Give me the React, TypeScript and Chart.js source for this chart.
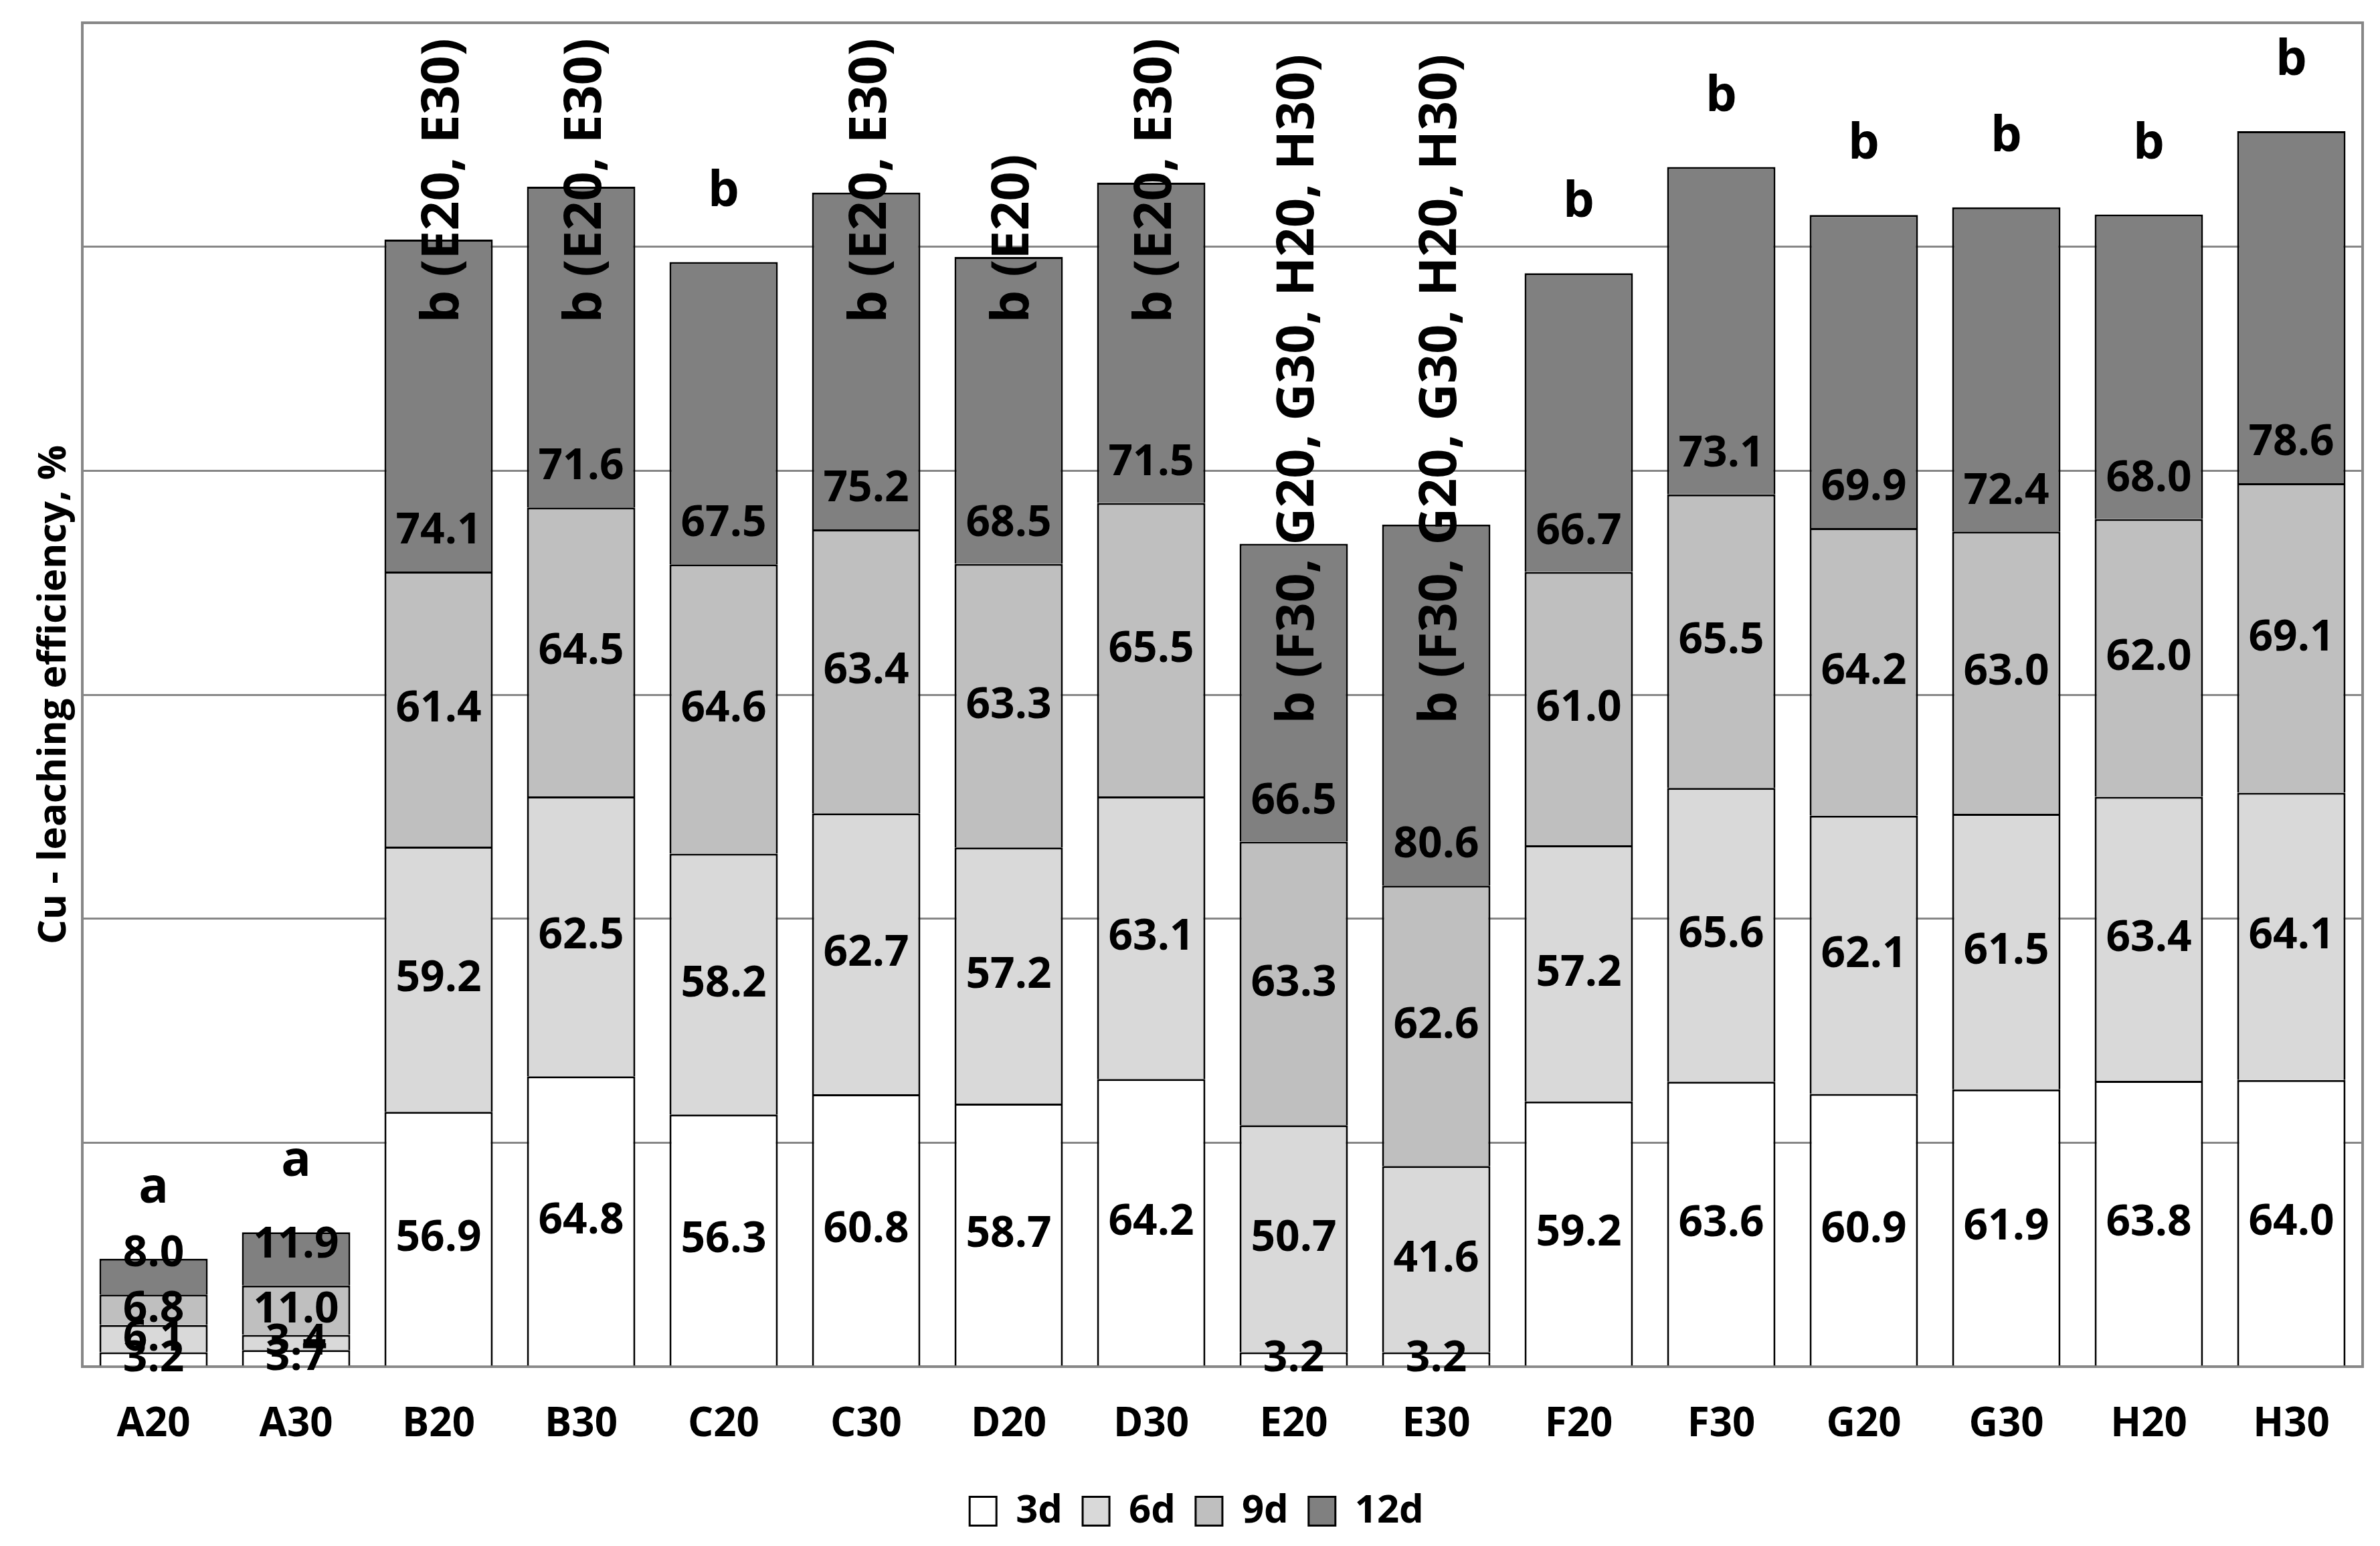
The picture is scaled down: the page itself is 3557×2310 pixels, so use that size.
import React, { useEffect, useRef } from 'react';
import { Chart, registerables } from 'chart.js';

Chart.register(...registerables);

const FONT = "'Open Sans', 'Noto Sans', sans-serif";

const categories = ['A20', 'A30', 'B20', 'B30', 'C20', 'C30', 'D20', 'D30', 'E20', 'E30', 'F20', 'F30', 'G20', 'G30', 'H20', 'H30'];
const seriesNames = ['3d', '6d', '9d', '12d'];
const values3d = [3.2, 3.7, 56.9, 64.8, 56.3, 60.8, 58.7, 64.2, 3.2, 3.2, 59.2, 63.6, 60.9, 61.9, 63.8, 64.0];
const values6d = [6.1, 3.4, 59.2, 62.5, 58.2, 62.7, 57.2, 63.1, 50.7, 41.6, 57.2, 65.6, 62.1, 61.5, 63.4, 64.1];
const values9d = [6.8, 11.0, 61.4, 64.5, 64.6, 63.4, 63.3, 65.5, 63.3, 62.6, 61.0, 65.5, 64.2, 63.0, 62.0, 69.1];
const values12d = [8.0, 11.9, 74.1, 71.6, 67.5, 75.2, 68.5, 71.5, 66.5, 80.6, 66.7, 73.1, 69.9, 72.4, 68.0, 78.6];
const groupLetters = [
  'a', 'a', 'b (E20, E30)', 'b (E20, E30)', 'b', 'b (E20, E30)', 'b (E20)', 'b (E20, E30)',
  'b (F30, G20, G30, H20, H30)', 'b (F30, G20, G30, H20, H30)', 'b', 'b', 'b', 'b', 'b', 'b',
];
const yMin = 0;
const yMax = 300;
const yStep = 50;
const yTitle = 'Cu - leaching efficiency, %';

const seriesColors = ['#FFFFFF', '#D9D9D9', '#BFBFBF', '#808080'];

const annotationPlugin = {
  id: 'annotations',
  beforeDatasetsDraw(chart: any) {
    const { ctx, chartArea: a } = chart;
    ctx.save();
    ctx.strokeStyle = '#878787';
    ctx.lineWidth = 4;
    ctx.strokeRect(a.left, a.top, a.right - a.left, a.bottom - a.top);
    ctx.restore();
  },
  afterDatasetsDraw(chart: any) {
    const { ctx } = chart;
    const yScale = chart.scales.y;
    const datasets = chart.data.datasets;
    ctx.save();
    ctx.fillStyle = '#000';
    ctx.textAlign = 'center';
    ctx.textBaseline = 'middle';
    ctx.font = `bold 64px ${FONT}`;
    datasets.forEach((ds: any, i: number) => {
      const meta = chart.getDatasetMeta(i);
      meta.data.forEach((el: any, j: number) => {
        const { x, y, base } = el.getProps(['x', 'y', 'base'], true);
        const v = ds.data[j] as number;
        const ty = i === datasets.length - 1 ? base - 60 : (y + base) / 2;
        ctx.fillText(v.toFixed(1), x, ty);
      });
    });

    const meta0 = chart.getDatasetMeta(0);
    groupLetters.forEach((txt, j) => {
      const x = meta0.data[j].x;
      const total = datasets.reduce((s: number, ds: any) => s + (ds.data[j] as number), 0);
      if (txt.length === 1) {
        ctx.font = `bold 74px ${FONT}`;
        ctx.textAlign = 'center';
        ctx.textBaseline = 'middle';
        ctx.fillText(txt, x, yScale.getPixelForValue(total) - 105);
      } else {
        ctx.font = `bold 77px ${FONT}`;
        const anchor = txt.length > 15 ? 143.5 : 233;
        ctx.save();
        ctx.translate(x + 8, yScale.getPixelForValue(anchor));
        ctx.rotate(-Math.PI / 2);
        ctx.textAlign = 'left';
        ctx.textBaseline = 'middle';
        ctx.fillText(txt, 0, 0);
        ctx.restore();
      }
    });
    ctx.restore();
  },
};

export default function App() {
  const canvasRef = useRef<HTMLCanvasElement | null>(null);

  useEffect(() => {
    document.body.style.margin = '0';
    if (!canvasRef.current) return;
    Chart.defaults.color = '#000';
    const allValues = [values3d, values6d, values9d, values12d];
    const chart = new Chart(canvasRef.current, {
      type: 'bar',
      data: {
        labels: categories,
        datasets: allValues.map((vals, i) => ({
          label: seriesNames[i],
          data: vals,
          backgroundColor: seriesColors[i],
          borderColor: '#000000',
          borderWidth: 3,
          borderSkipped: 'start',
          categoryPercentage: 1,
          barPercentage: 0.76,
        })),
      },
      options: {
        animation: false,
        responsive: true,
        maintainAspectRatio: false,
        layout: { padding: { top: 34, right: 26, bottom: 13, left: 46 } },
        plugins: {
          legend: {
            position: 'bottom',
            labels: {
              boxWidth: 40,
              boxHeight: 43,
              padding: 30,
              color: '#000',
              font: { family: FONT, size: 58, weight: 'bold' },
            },
          },
          tooltip: { enabled: false },
        },
        scales: {
          x: {
            stacked: true,
            grid: { display: false, drawTicks: false },
            border: { display: false },
            ticks: {
              padding: 51,
              color: '#000',
              font: { family: FONT, size: 60, weight: 'bold' },
            },
            afterFit: (scale: any) => {
              scale.height = 157;
            },
          },
          y: {
            stacked: true,
            min: yMin,
            max: yMax,
            ticks: { display: false, stepSize: yStep },
            grid: { color: '#878787', lineWidth: 3, drawTicks: false },
            border: { display: false },
            title: {
              display: true,
              text: yTitle,
              color: '#000',
              padding: { top: 1, bottom: 0 },
              font: { family: FONT, size: 58, weight: 'bold' },
            },
            afterFit: (scale: any) => {
              scale.width = 77;
            },
          },
        },
      },
      plugins: [annotationPlugin],
    } as any);
    return () => chart.destroy();
  }, []);

  return (
    <div style={{ position: 'absolute', left: 0, top: 0, width: 3557, height: 2310, background: '#fff' }}>
      <canvas ref={canvasRef} />
    </div>
  );
}
